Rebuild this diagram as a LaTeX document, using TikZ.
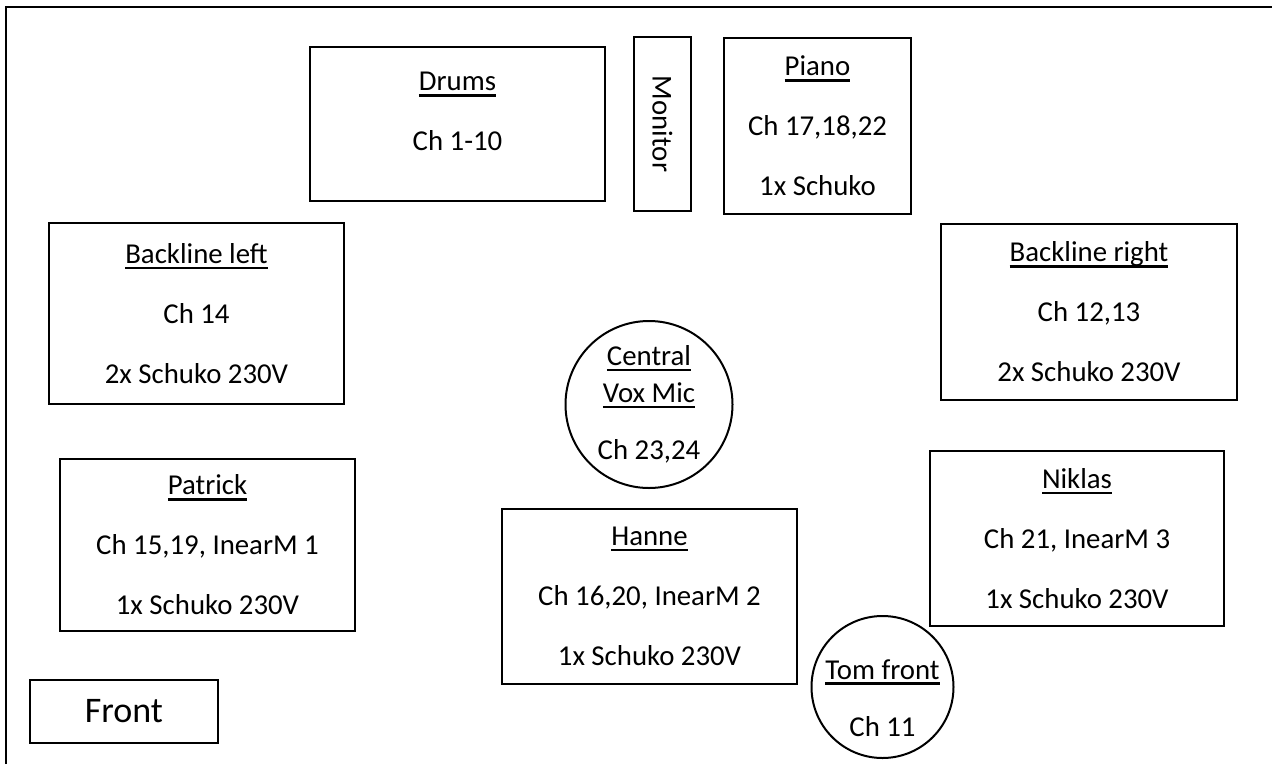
\documentclass[tikz,border=0pt]{standalone}
\usepackage{fontspec}
\setmainfont{Carlito}
\usetikzlibrary{positioning}

\newsavebox\titrebox
\newcommand{\titre}[1]{\sbox\titrebox{#1}\rlap{\rule[-5.8pt]{\wd\titrebox}{2.6pt}}\usebox\titrebox}

\begin{document}
\begin{tikzpicture}[x=1pt, y=-1pt,
    poste/.style={draw, line width=2.5pt, rectangle, align=center, inner sep=0pt,
        font=\fontsize{28.8}{35}\selectfont},
    micro/.style={draw, line width=2pt, circle, inner sep=0pt},
    texte/.style={align=center, inner sep=0pt, font=\fontsize{28.8}{35}\selectfont}]

    \useasboundingbox (0,0) rectangle (1272,764);

    % Cadre de la scène
    \draw[line width=2.7pt] (6,764) -- (6,7) -- (1272,7);

    % Fond de scène
    \node[poste, minimum width=295, minimum height=154] (drums) at (457.5,124)
        {\titre{Drums}\\[25pt]Ch 1-10\\[-10pt]\mbox{}};
    \node[poste, rotate=-90, minimum width=174, minimum height=57] (monitor) at (662.5,124) {Monitor};
    \node[poste, minimum width=187, minimum height=176] (piano) at (817.5,126)
        {\titre{Piano}\\[25pt]Ch 17,18,22\\[25pt]1x Schuko};

    % Backlines
    \node[poste, minimum width=295, minimum height=181] (blleft) at (196.5,313.5)
        {\titre{Backline left}\\[25pt]Ch 14\\[25pt]2x Schuko 230V};
    \node[poste, minimum width=296, minimum height=176] (blright) at (1089,312)
        {\titre{Backline right}\\[25pt]Ch 12,13\\[25pt]2x Schuko 230V};

    % Micros
    \node[micro, minimum size=167] (vox) at (649,404.5) {};
    \node[texte] (voxtxt) at (vox) {\titre{Central}\\[2pt]\titre{Vox Mic}\\[22pt]Ch 23,24};
    \node[micro, minimum size=142] (tom) at (882.5,687) {};
    \node[texte] (tomtxt) at ([yshift=-11pt]tom.center) {\titre{Tom front}\\[22pt]Ch 11};

    % Musiciens
    \node[poste, minimum width=295, minimum height=172] (patrick) at (207.5,545)
        {\titre{Patrick}\\[25pt]Ch 15,19, InearM 1\\[25pt]1x Schuko 230V};
    \node[poste, minimum width=295, minimum height=175] (hanne) at (649.5,596.5)
        {\titre{Hanne}\\[25pt]Ch 16,20, InearM 2\\[25pt]1x Schuko 230V};
    \node[poste, minimum width=294, minimum height=175] (niklas) at (1077,538.5)
        {\titre{Niklas}\\[25pt]Ch 21, InearM 3\\[25pt]1x Schuko 230V};

    % Devant
    \node[poste, line width=2.2pt, minimum width=188, minimum height=63,
        font=\fontsize{36}{43}\selectfont] (front) at (124,711.5) {Front};

\end{tikzpicture}
\end{document}
